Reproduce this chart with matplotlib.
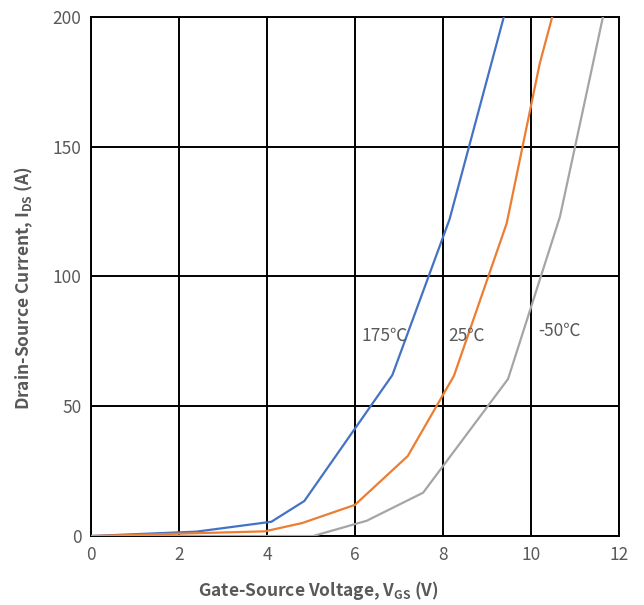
import matplotlib
matplotlib.use("Agg")
import matplotlib.pyplot as plt

plt.rcParams['font.family'] = ['Noto Sans CJK SC', 'DejaVu Sans']
plt.rcParams['mathtext.fontset'] = 'custom'
plt.rcParams['mathtext.rm'] = 'Noto Sans CJK SC'
plt.rcParams['mathtext.bf'] = 'Noto Sans CJK SC:bold'

# --- transfer curves ---
vgs_175 = [0.0, 2.4, 4.1, 4.85, 6.85, 8.15, 9.4]
ids_175 = [0.0, 1.7, 5.5, 13.5, 62.0, 122.0, 201.0]

vgs_25 = [0.0, 3.95, 4.8, 6.0, 7.2, 8.25, 9.45, 10.2, 10.5]
ids_25 = [0.0, 1.8, 5.0, 12.0, 30.8, 61.7, 120.5, 182.0, 201.0]

vgs_m50 = [0.0, 5.05, 6.27, 7.55, 9.48, 10.66, 11.41, 11.65]
ids_m50 = [0.0, 0.0, 5.9, 16.7, 60.5, 123.0, 182.0, 201.0]

series = [
    (vgs_175, ids_175, "#4472C4", "175℃", 6.15, 77),
    (vgs_25, ids_25, "#ED7D31", "25℃", 8.12, 77),
    (vgs_m50, ids_m50, "#A5A5A5", "-50℃", 10.17, 79),
]

fig = plt.figure(figsize=(6.44, 6.05), dpi=100)
ax = fig.add_axes([0.1413, 0.114, 0.8197, 0.858])

for x, y, c, lab, tx, ty in series:
    ax.plot(x, y, color=c, linewidth=1.6, zorder=3, clip_on=True)
    ax.text(tx, ty, lab, color="#595959", fontsize=12.5, va="center",
            ha="left", zorder=4)

ax.set_xlim(0, 12)
ax.set_ylim(0, 200)
ax.set_xticks(range(0, 13, 2))
ax.set_yticks(range(0, 201, 50))
ax.grid(True, color="black", linewidth=1.4, zorder=1)
ax.set_axisbelow(True)
for s in ax.spines.values():
    s.set_color("black")
    s.set_linewidth(1.4)
ax.tick_params(length=0, labelsize=12.5, labelcolor="#595959", pad=7)

ax.set_xlabel(r"Gate-Source Voltage, V$_{\mathbf{GS}}$ (V)",
              fontsize=12.5, fontweight="bold", color="#595959")
ax.set_ylabel(r"Drain-Source Current, I$_{\mathbf{DS}}$ (A)",
              fontsize=12.5, fontweight="bold", color="#595959")
# Excel-style offsets of the axis titles
ax.xaxis.set_label_coords(0.43, -0.082)
ax.yaxis.set_label_coords(-0.107, 0.478)

fig.savefig("out.png", dpi=100)
plt.close(fig)
